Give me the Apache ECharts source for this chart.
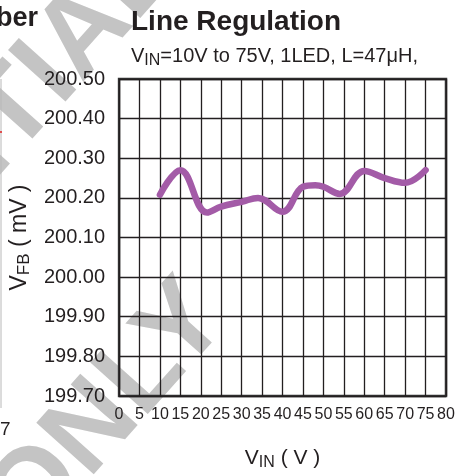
<!DOCTYPE html>
<html>
<head>
<meta charset="utf-8">
<script src="https://cdn.jsdelivr.net/npm/echarts@6/dist/echarts.min.js"></script>
<style>
  html, body { margin: 0; padding: 0; background: #fff; }
  #chart { width: 468px; height: 476px; }
</style>
</head>
<body>
<div id="chart"></div>
<script>
// VIN (V) and VFB (mV)
const vin = [10, 15, 21.5, 25, 30, 34, 40, 45, 48, 50, 54, 60, 65, 70, 75]
const vfb = [200.208, 200.27, 200.163, 200.178, 200.19, 200.2, 200.165, 200.228, 200.232, 200.228, 200.21, 200.268, 200.25, 200.238, 200.27]
const xTicks = { min: 0, max: 80, step: 5 }
const yTicks = { min: 199.7, max: 200.5, step: 0.1 }

const ink = '#231f20'
const mark = '#c4c4c4'

const myChart = echarts.init(document.getElementById('chart'))

const option = {
  backgroundColor: '#fff',
  animation: false,
  title: {
    text: 'Line Regulation',
    left: 126,
    top: 3,
    itemGap: 8,
    textStyle: { color: ink, fontSize: 28, fontWeight: 'bold', fontFamily: 'Liberation Sans' },
    subtext: '{v|V}{s|IN}{v|=10V to 75V, 1LED, L=47μH,}',
    subtextStyle: {
      rich: {
        v: { color: ink, fontSize: 20, fontFamily: 'Liberation Sans' },
        s: { color: ink, fontSize: 16, fontFamily: 'Liberation Sans', padding: [9, 0, 0, 0] }
      }
    }
  },
  graphic: [
    // watermark from the datasheet, behind the plot
    {
      type: 'text', z: -10, x: 158, y: -48, rotation: 0.84,
      style: { text: 'CONFIDENTIAL', fill: mark, font: 'bold 112px "Liberation Sans"', align: 'right', verticalAlign: 'middle' }
    },
    {
      type: 'text', z: -10, x: 108, y: 412, rotation: 0.84,
      style: { text: 'ONLY', fill: mark, font: 'bold 112px "Liberation Sans"', align: 'center', verticalAlign: 'middle' }
    },
    // edge of the neighbouring chart
    { type: 'text', z: 5, x: 38, y: 19, style: { text: 'ber', fill: ink, font: 'bold 27px "Liberation Sans"', align: 'right', verticalAlign: 'middle' } },
    { type: 'text', z: 5, x: 0, y: 430, style: { text: '7', fill: ink, font: '19px "Liberation Sans"', align: 'left', verticalAlign: 'middle' } },
    { type: 'line', z: 5, shape: { x1: 1, y1: 79, x2: 1, y2: 408 }, style: { stroke: '#b8b8b8', lineWidth: 1 } },
    { type: 'line', z: 6, shape: { x1: 0, y1: 132, x2: 2, y2: 132 }, style: { stroke: '#e02020', lineWidth: 1.5 } }
  ],
  grid: {
    left: 114,
    right: 22,
    top: 79,
    bottom: 68,
    show: true,
    borderColor: '#333',
    borderWidth: 2.5,
    backgroundColor: 'transparent'
  },
  xAxis: {
    type: 'value',
    min: xTicks.min,
    max: xTicks.max,
    interval: xTicks.step,
    name: '{v|V}{s|IN}{v| ( V )}',
    nameLocation: 'middle',
    nameGap: 50,
    nameTextStyle: {
      rich: {
        v: { color: ink, fontSize: 21, fontFamily: 'Liberation Sans' },
        s: { color: ink, fontSize: 16, fontFamily: 'Liberation Sans', padding: [9, 0, 0, 0] }
      }
    },
    axisLine: { show: false },
    axisTick: { show: false },
    axisLabel: {
      color: ink,
      fontSize: 16,
      fontFamily: 'Liberation Sans',
      margin: 11,
      showMinLabel: true,
      showMaxLabel: true,
      hideOverlap: false
    },
    splitLine: { show: true, lineStyle: { color: ink, width: 1.3 } }
  },
  yAxis: {
    type: 'value',
    min: yTicks.min,
    max: yTicks.max,
    interval: yTicks.step,
    name: '{v|V}{s|FB}{v| ( mV )}',
    nameLocation: 'middle',
    nameRotate: 90,
    nameGap: 86,
    nameTextStyle: {
      rich: {
        v: { color: ink, fontSize: 23, fontFamily: 'Liberation Sans' },
        s: { color: ink, fontSize: 17, fontFamily: 'Liberation Sans', padding: [10, 0, 0, 0] }
      }
    },
    axisLine: { show: false },
    axisTick: { show: false },
    axisLabel: {
      color: ink,
      fontSize: 20,
      fontFamily: 'Liberation Sans',
      margin: 14,
      formatter: v => v.toFixed(2)
    },
    splitLine: { show: true, lineStyle: { color: ink, width: 1.3 } }
  },
  series: [
    {
      type: 'line',
      data: vin.map((x, i) => [x, vfb[i]]),
      smooth: 0.4,
      showSymbol: false,
      z: 3,
      lineStyle: { color: '#a35ba7', width: 6.5, cap: 'round', join: 'round' }
    }
  ]
}
option && myChart.setOption(option)
</script>
</body>
</html>
